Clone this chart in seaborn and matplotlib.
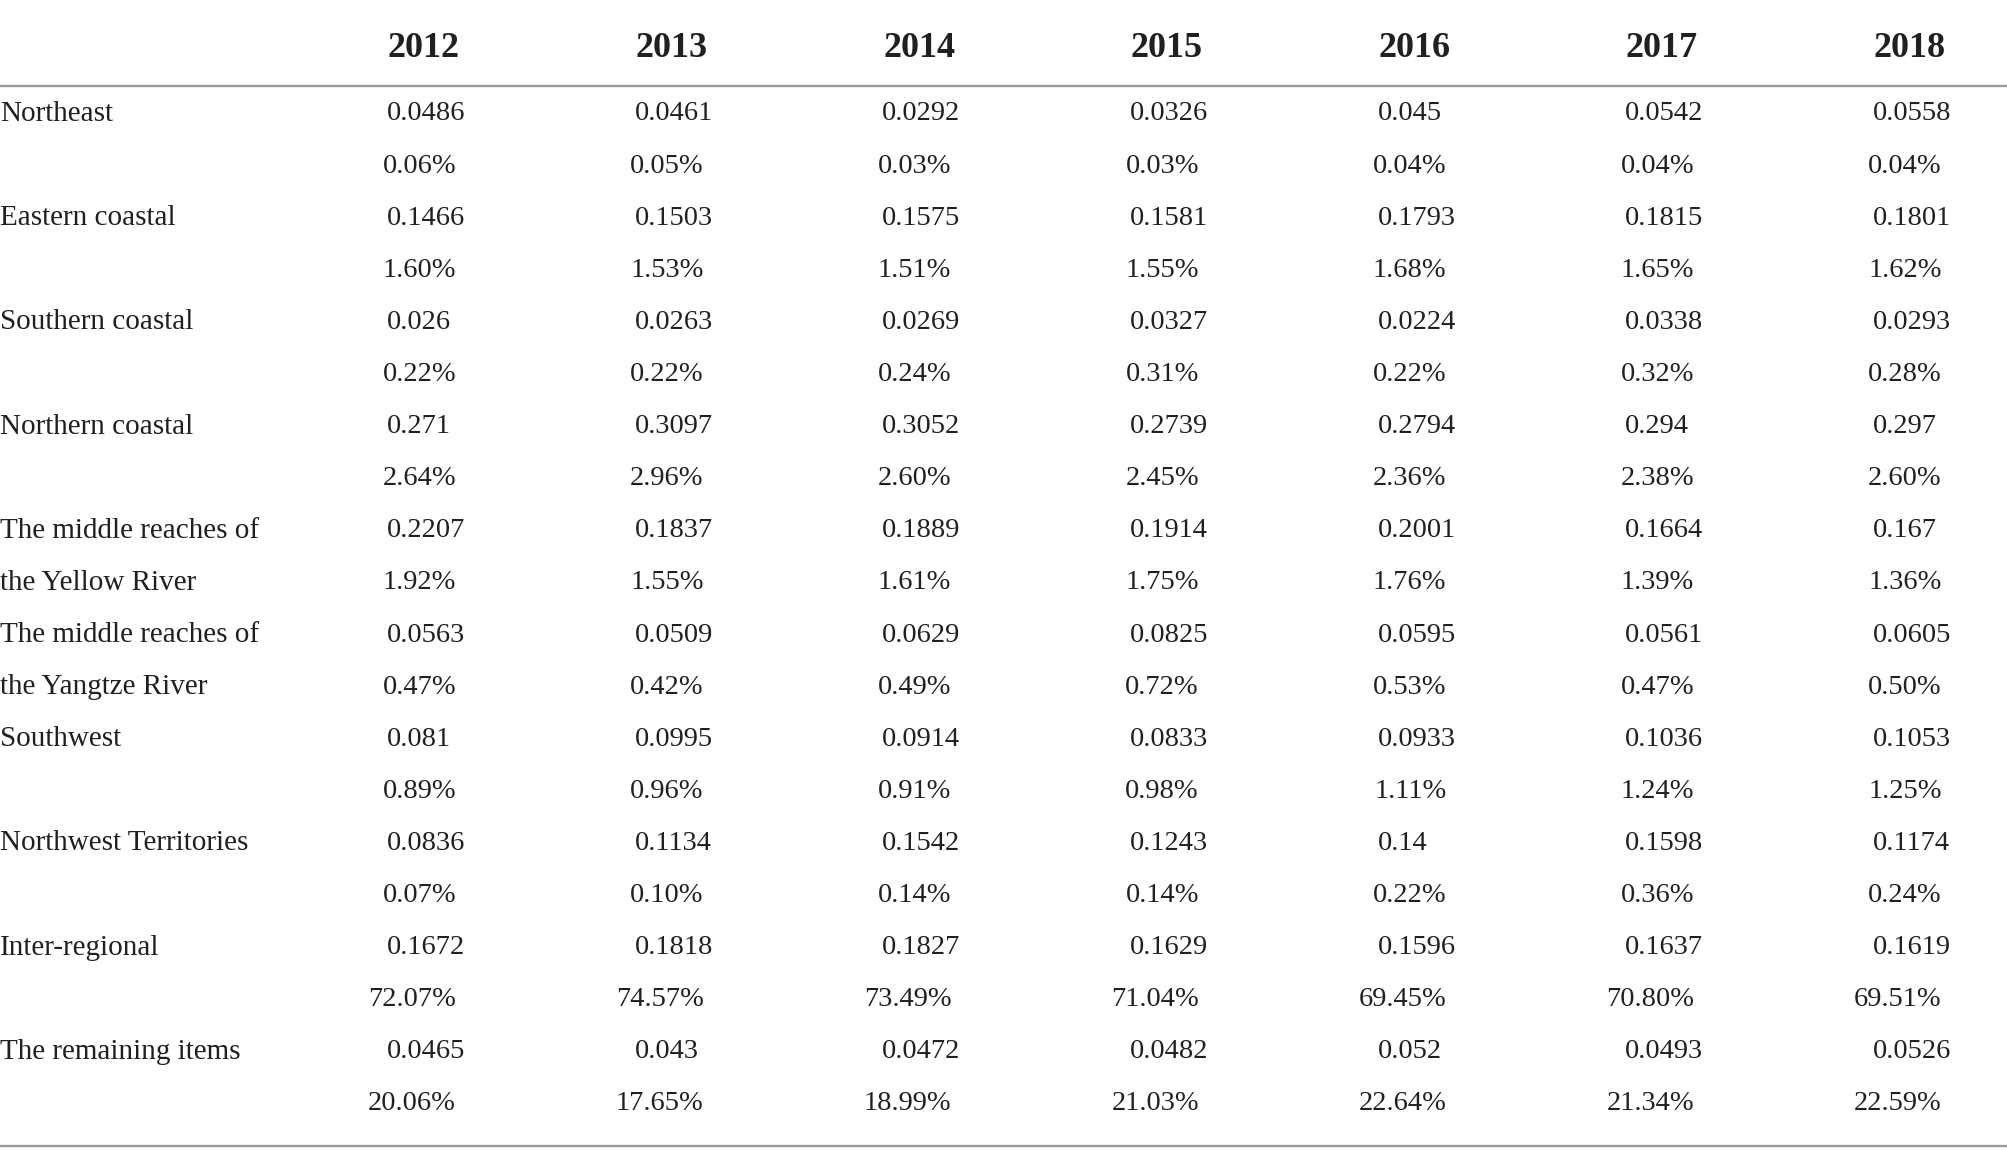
import matplotlib
matplotlib.use("Agg")
import matplotlib.pyplot as plt
import seaborn as sns

years = ["2012", "2013", "2014", "2015", "2016", "2017", "2018"]
regions = [
    ("Northeast", ""),
    ("Eastern coastal", ""),
    ("Southern coastal", ""),
    ("Northern coastal", ""),
    ("The middle reaches of", "the Yellow River"),
    ("The middle reaches of", "the Yangtze River"),
    ("Southwest", ""),
    ("Northwest Territories", ""),
    ("Inter-regional", ""),
    ("The remaining items", ""),
]
# Theil values per region (rows) and year (columns)
theil = [
    [0.0486, 0.0461, 0.0292, 0.0326, 0.045, 0.0542, 0.0558],
    [0.1466, 0.1503, 0.1575, 0.1581, 0.1793, 0.1815, 0.1801],
    [0.026, 0.0263, 0.0269, 0.0327, 0.0224, 0.0338, 0.0293],
    [0.271, 0.3097, 0.3052, 0.2739, 0.2794, 0.294, 0.297],
    [0.2207, 0.1837, 0.1889, 0.1914, 0.2001, 0.1664, 0.167],
    [0.0563, 0.0509, 0.0629, 0.0825, 0.0595, 0.0561, 0.0605],
    [0.081, 0.0995, 0.0914, 0.0833, 0.0933, 0.1036, 0.1053],
    [0.0836, 0.1134, 0.1542, 0.1243, 0.14, 0.1598, 0.1174],
    [0.1672, 0.1818, 0.1827, 0.1629, 0.1596, 0.1637, 0.1619],
    [0.0465, 0.043, 0.0472, 0.0482, 0.052, 0.0493, 0.0526],
]
# contribution shares (%)
share = [
    [0.06, 0.05, 0.03, 0.03, 0.04, 0.04, 0.04],
    [1.60, 1.53, 1.51, 1.55, 1.68, 1.65, 1.62],
    [0.22, 0.22, 0.24, 0.31, 0.22, 0.32, 0.28],
    [2.64, 2.96, 2.60, 2.45, 2.36, 2.38, 2.60],
    [1.92, 1.55, 1.61, 1.75, 1.76, 1.39, 1.36],
    [0.47, 0.42, 0.49, 0.72, 0.53, 0.47, 0.50],
    [0.89, 0.96, 0.91, 0.98, 1.11, 1.24, 1.25],
    [0.07, 0.10, 0.14, 0.14, 0.22, 0.36, 0.24],
    [72.07, 74.57, 73.49, 71.04, 69.45, 70.80, 69.51],
    [20.06, 17.65, 18.99, 21.03, 22.64, 21.34, 22.59],
]

sns.set_theme(style="white")
plt.rcParams["font.family"] = ["Liberation Serif", "DejaVu Serif"]
txt = "#231f20"
rule = "#9a9a9a"

W, H, DPI = 2008, 1161, 100
fig = plt.figure(figsize=(W / DPI, H / DPI), dpi=DPI)
ax = fig.add_axes([0, 0, 1, 1])
ax.set_axis_off()

# data coordinates: x = column index, y = row index
col_px = 247.6
x0_px = 387.0
row_px = 52.1
y0_px = 114.0
ax.set_xlim((0 - x0_px) / col_px, (W - x0_px) / col_px)
ax.set_ylim((H - y0_px) / row_px, (0 - y0_px) / row_px)
xl = ax.get_xlim()[0]

fs = 20.5
lfs = 21
hfs = 26

# header
for j, yr in enumerate(years):
    ax.text(j + 0.149, -1.25, yr, ha="center", va="center", fontsize=hfs,
            fontweight="bold", color=txt)

ax.axhline(-0.54, color=rule, lw=1.6)
ax.axhline(19.81, color=rule, lw=1.6)

for i, (l1, l2) in enumerate(regions):
    r = 2 * i
    ax.text(xl, r, l1, ha="left", va="center", fontsize=lfs, color=txt)
    if l2:
        ax.text(xl, r + 1, l2, ha="left", va="center", fontsize=lfs, color=txt)
    for j in range(len(years)):
        ax.text(j, r, str(theil[i][j]), ha="left", va="center", fontsize=fs, color=txt)
        ax.text(j + 0.279, r + 1, f"{share[i][j]:.2f}%", ha="right", va="center",
                fontsize=fs, color=txt)

fig.savefig("out.png", dpi=DPI, facecolor="white")
